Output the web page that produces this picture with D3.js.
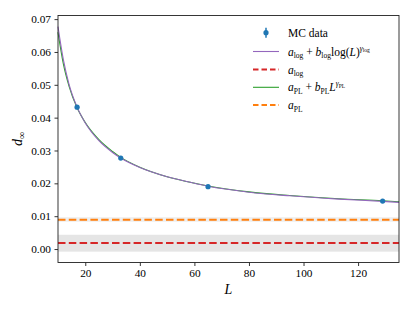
<!DOCTYPE html>
<html>
<head>
<meta charset="utf-8">
<script src="https://cdn.jsdelivr.net/npm/d3@7"></script>
<style>
  body { margin: 0; background: #fff; }
  svg text { font-family: "Liberation Serif", "Times New Roman", serif; fill: #000; }
</style>
</head>
<body>
<svg id="chart" width="415" height="311"></svg>
<script>
// MC data points
const sizes = [17, 33, 65, 129];
const dInf = [0.0432, 0.0277, 0.0190, 0.0146];
const dErr = [0.0003, 0.0003, 0.0003, 0.0003];

// fit curves
const curveL = [10, 12, 14, 17, 20, 25, 30, 33, 40, 50, 58, 65, 80, 95, 113, 129, 135];
const logFit = [0.0677, 0.0575, 0.0503, 0.0432, 0.0384, 0.0330, 0.0294, 0.0277, 0.0248, 0.0220, 0.0204, 0.0191, 0.0173, 0.0162, 0.0152, 0.0145, 0.0142];
const plFit = [0.0660, 0.0562, 0.0497, 0.0430, 0.0385, 0.0333, 0.0297, 0.0279, 0.0249, 0.0220, 0.0204, 0.0192, 0.0174, 0.0163, 0.0153, 0.0147, 0.0144];

// asymptotes and their bands
const aLog = 0.0018, aLogBand = [-0.0008, 0.00435];
const aPL = 0.0089, aPLBand = [0.0083, 0.0097];

const xTicks = [20, 40, 60, 80, 100, 120];
const yTicks = [0, 0.01, 0.02, 0.03, 0.04, 0.05, 0.06, 0.07];

const pLeft = 58, pRight = 399, pTop = 15.5, pBottom = 262.5;
const serif = "'Liberation Serif', 'Times New Roman', serif";
const svg = d3.select("#chart").attr("font-family", serif);

const x = d3.scaleLinear().domain([10, 135]).range([pLeft, pRight]);
const y = d3.scaleLinear().domain([-0.0041, 0.0711]).range([pBottom, pTop]);

// bands
svg.append("rect")
  .attr("x", pLeft).attr("width", pRight - pLeft)
  .attr("y", y(aLogBand[1])).attr("height", y(aLogBand[0]) - y(aLogBand[1]))
  .attr("fill", "#e5e5e5");
svg.append("rect")
  .attr("x", pLeft).attr("width", pRight - pLeft)
  .attr("y", y(aPLBand[1])).attr("height", y(aPLBand[0]) - y(aPLBand[1]))
  .attr("fill", "#eeeeee");

const line = d3.line()
  .x(d => x(d[0]))
  .y(d => y(d[1]))
  .curve(d3.curveMonotoneX);

const plot = svg.append("g");

// green power law then purple log on top
plot.append("path")
  .attr("d", line(curveL.map((l, i) => [l, plFit[i]])))
  .attr("fill", "none").attr("stroke", "#2ca02c").attr("stroke-width", 1.1);
plot.append("path")
  .attr("d", line(curveL.map((l, i) => [l, logFit[i]])))
  .attr("fill", "none").attr("stroke", "#9467bd").attr("stroke-width", 1.1);

// dashed asymptotes
plot.append("line")
  .attr("x1", pLeft).attr("x2", pRight).attr("y1", y(aLog)).attr("y2", y(aLog))
  .attr("stroke", "#d62728").attr("stroke-width", 2).attr("stroke-dasharray", "7.5,3.3");
plot.append("line")
  .attr("x1", pLeft).attr("x2", pRight).attr("y1", y(aPL)).attr("y2", y(aPL))
  .attr("stroke", "#ff7f0e").attr("stroke-width", 2).attr("stroke-dasharray", "7.5,3.3");

// error bars + points
sizes.forEach((l, i) => {
  plot.append("line")
    .attr("x1", x(l)).attr("x2", x(l))
    .attr("y1", y(dInf[i] - dErr[i])).attr("y2", y(dInf[i] + dErr[i]))
    .attr("stroke", "#1f77b4").attr("stroke-width", 1.5);
  plot.append("circle")
    .attr("cx", x(l)).attr("cy", y(dInf[i])).attr("r", 2.6)
    .attr("fill", "#1f77b4");
});

// axes
const xAxis = svg.append("g")
  .attr("transform", `translate(0,${pBottom})`)
  .call(d3.axisBottom(x).tickValues(xTicks).tickSize(3.5).tickPadding(3).tickFormat(d3.format("d")));
const yAxis = svg.append("g")
  .attr("transform", `translate(${pLeft},0)`)
  .call(d3.axisLeft(y).tickValues(yTicks).tickSize(3.5).tickPadding(3.5).tickFormat(d3.format(".2f")));
[xAxis, yAxis].forEach(g => {
  g.attr("font-family", serif).attr("font-size", 11.3);
  g.select(".domain").remove();
  g.selectAll(".tick line").attr("stroke", "#000").attr("stroke-width", 0.8);
  g.selectAll(".tick text").attr("font-family", serif).attr("font-size", 11.3);
});

// frame
svg.append("rect")
  .attr("x", pLeft).attr("y", pTop).attr("width", pRight - pLeft).attr("height", pBottom - pTop)
  .attr("fill", "none").attr("stroke", "#222").attr("stroke-width", 0.9);

// axis labels
svg.append("text")
  .attr("x", (pLeft + pRight) / 2).attr("y", 294)
  .attr("text-anchor", "middle").attr("font-size", 14).attr("font-style", "italic")
  .text("L");
const yl = svg.append("text")
  .attr("transform", `translate(22,${(pTop + pBottom) / 2}) rotate(-90)`)
  .attr("text-anchor", "middle").attr("font-size", 14);
yl.append("tspan").attr("font-style", "italic").text("d");
yl.append("tspan").attr("font-size", 10).attr("dy", 3).text("∞");

// legend
const legend = svg.append("g");
const lx0 = 253, lx1 = 279, tx = 288;
const rows = [32.7, 51.5, 69.5, 87.3, 105];

// MC data
legend.append("line").attr("x1", (lx0 + lx1) / 2).attr("x2", (lx0 + lx1) / 2)
  .attr("y1", rows[0] - 5).attr("y2", rows[0] + 5).attr("stroke", "#1f77b4").attr("stroke-width", 1.5);
legend.append("circle").attr("cx", (lx0 + lx1) / 2).attr("cy", rows[0]).attr("r", 2.6).attr("fill", "#1f77b4");

const handle = (row, color, dash, w) => legend.append("line")
  .attr("x1", lx0).attr("x2", lx1).attr("y1", rows[row]).attr("y2", rows[row])
  .attr("stroke", color).attr("stroke-width", w).attr("stroke-dasharray", dash);
handle(1, "#9467bd", null, 1.1);
handle(2, "#d62728", "5.5,3", 2);
handle(3, "#2ca02c", null, 1.1);
handle(4, "#ff7f0e", "5.5,3", 2);

const fs = 11.5, sub = 7.5;
function label(row) {
  return legend.append("text").attr("x", tx).attr("y", rows[row] + 4).attr("font-size", fs);
}
label(0).text("MC data");

function part(t, str, opts) {
  const s = t.append("tspan").text(str);
  if (opts.it) s.attr("font-style", "italic");
  if (opts.size) s.attr("font-size", opts.size);
  if (opts.dy) s.attr("dy", opts.dy);
  return s;
}

// a_log + b_log log(L)^{gamma_log}
let t = label(1);
part(t, "a", { it: true });
part(t, "log", { size: sub, dy: 2.5 });
part(t, " + ", { dy: -2.5 });
part(t, "b", { it: true });
part(t, "log", { size: sub, dy: 2.5 });
part(t, "log(", { dy: -2.5 });
part(t, "L", { it: true });
part(t, ")", {});
part(t, "γ", { it: true, size: sub, dy: -5 });
part(t, "log", { size: 5.5, dy: 1.5 });

t = label(2);
part(t, "a", { it: true });
part(t, "log", { size: sub, dy: 2.5 });

// a_PL + b_PL L^{gamma_PL}
t = label(3);
part(t, "a", { it: true });
part(t, "PL", { size: sub, dy: 2.5 });
part(t, " + ", { dy: -2.5 });
part(t, "b", { it: true });
part(t, "PL", { size: sub, dy: 2.5 });
part(t, "L", { it: true, dy: -2.5 });
part(t, "γ", { it: true, size: sub, dy: -5 });
part(t, "PL", { size: 5.5, dy: 1.5 });

t = label(4);
part(t, "a", { it: true });
part(t, "PL", { size: sub, dy: 2.5 });
</script>
</body>
</html>
